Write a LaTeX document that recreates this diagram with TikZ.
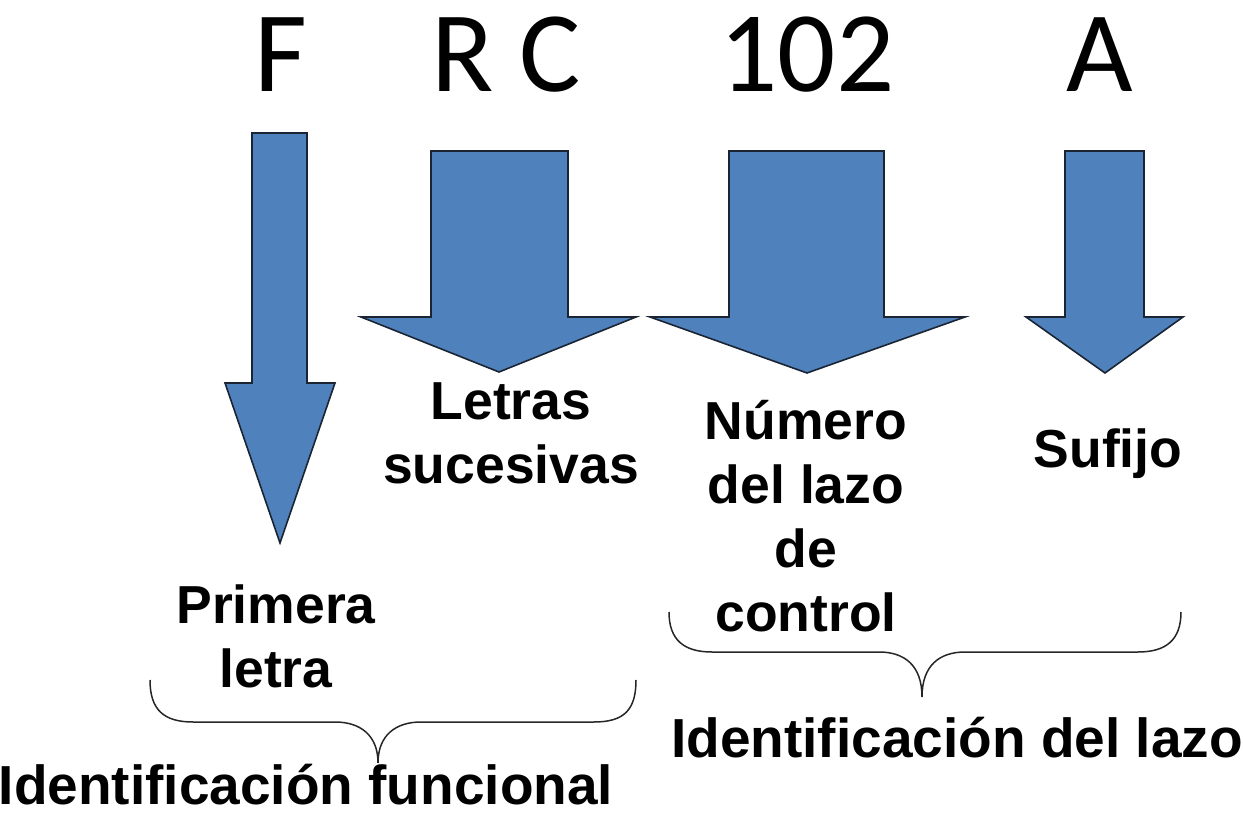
\documentclass[tikz,border=0pt]{standalone}
\usepackage{fontspec}
\setmainfont{Liberation Sans}
\newfontfamily\calibrifont{Carlito}
\definecolor{arrowblue}{HTML}{4F81BD}
\definecolor{arrowline}{HTML}{1A2433}
\begin{document}
\begin{tikzpicture}[x=1pt,y=1pt,
  blockarrow/.style={fill=arrowblue, draw=arrowline, line width=1.6pt, line join=miter},
  code/.style={font=\calibrifont\fontsize{115}{120}\selectfont, inner sep=0pt, anchor=base},
  lbl/.style={font=\bfseries\fontsize{53.5}{64}\selectfont, inner sep=0pt, align=center},
  bigl/.style={font=\bfseries\fontsize{55}{64}\selectfont, inner sep=0pt, anchor=base},
  bracepath/.style={draw=black!85, line width=1.5pt}]
\useasboundingbox (0,0) rectangle (1243,815);
% block arrows
\draw[blockarrow] (252,682) -- (307,682) -- (307,432) -- (335,432) -- (280,272) -- (225,432) -- (252,432) -- cycle;
\draw[blockarrow] (431,664) -- (568,664) -- (568,498) -- (636,498) -- (499,443) -- (361,498) -- (431,498) -- cycle;
\draw[blockarrow] (729,664) -- (884,664) -- (884,498) -- (965,498) -- (807,442) -- (650,498) -- (729,498) -- cycle;
\draw[blockarrow] (1065,664) -- (1144,664) -- (1144,498) -- (1183,498) -- (1105,442) -- (1026,498) -- (1065,498) -- cycle;
% code letters
\node[code] (F) at (281,723) {F};
\node[code] (RC) at (506,723) {R C};
\node[code] (n102) at (807,723) {102};
\node[code] (A) at (1100,723) {A};
% labels
\node[lbl, anchor=north] (letras) at (511,433) {Letras\\sucesivas};
\node[lbl, anchor=north] (numero) at (806,415) {Número\\del lazo\\de\\control};
\node[lbl, anchor=base] (sufijo) at (1108,347) {Sufijo};
\node[lbl, anchor=north] (primera) at (276,230) {Primera\\letra};
\node[bigl] (idlazo) at (957,58) {Identificación del lazo};
\node[bigl] (idfunc) at (306,11) {Identificación funcional};
% braces
\draw[bracepath] (150,135) .. controls (150,105) and (164,93) .. (193,93) -- (335,93) .. controls (360,93) and (378,80) .. (378,52) .. controls (378,80) and (396,93) .. (421,93) -- (594,93) .. controls (624,93) and (636,105) .. (636,135);
\draw[bracepath] (669,203) .. controls (669,175) and (684,163) .. (712,163) -- (879,163) .. controls (904,163) and (922,150) .. (922,118) .. controls (922,150) and (940,163) .. (965,163) -- (1138,163) .. controls (1166,163) and (1181,175) .. (1181,203);
\end{tikzpicture}
\end{document}
